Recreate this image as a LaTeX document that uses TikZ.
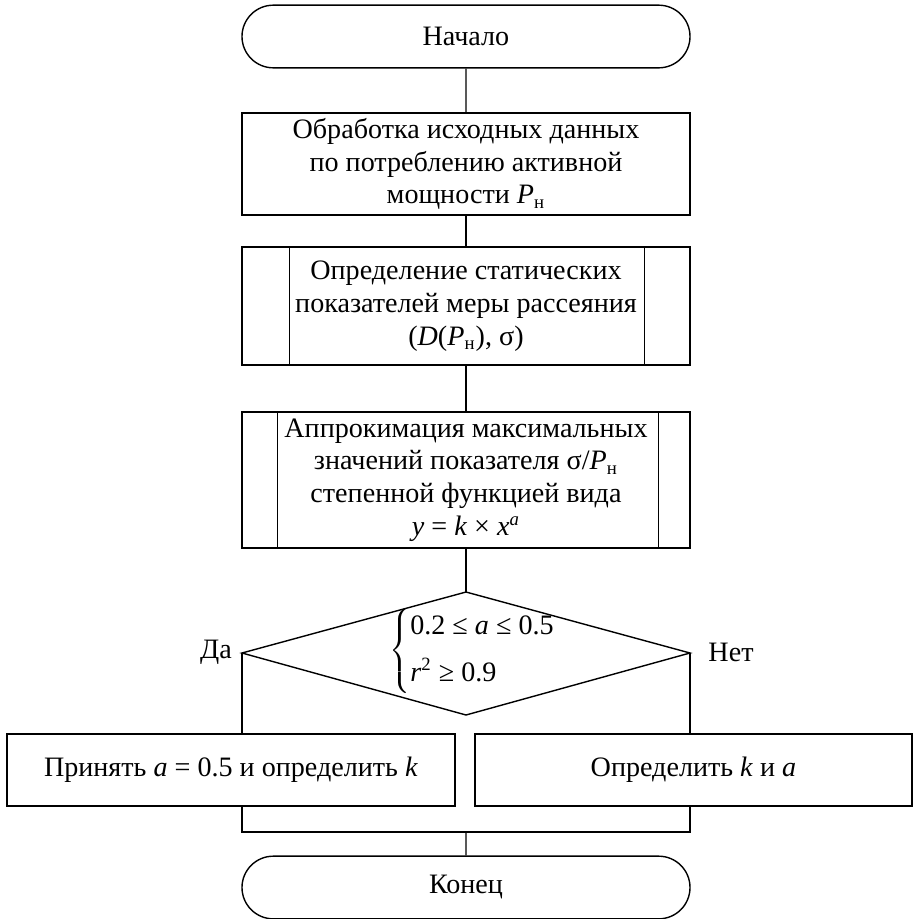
\documentclass[tikz,border=0pt]{standalone}
\usepackage{fontspec}
\setmainfont{Liberation Serif}
\usepackage{tikz}
\usetikzlibrary{positioning, shapes.misc}

\newcommand{\Pn}{\textit{P}\textsubscript{н}}

\tikzset{
  every node/.style={font=\fontsize{12}{14}\selectfont},
  termbox/.style={draw, rounded rectangle, minimum width=6.72cm, minimum height=0.94cm, inner sep=0pt},
  procbox/.style={draw, rectangle, minimum width=6.72cm, align=center, inner sep=0pt},
  subbox/.style={procbox},
  resbox/.style={draw, rectangle, minimum height=1.08cm, align=center, inner sep=0pt},
  branchlabel/.style={inner sep=0pt}
}

\begin{document}
\begin{tikzpicture}[x=0.015cm, y=-0.015cm, line width=0.6pt]
    \useasboundingbox (0,0) rectangle (913,919);

    % main column
    \node[termbox] (start) at (466,36.5) {Начало};
    \node[procbox, minimum height=1.53cm] (proc1) at (466,164) {%
      Обработка исходных данных\\
      по потреблению активной\\
      мощности \Pn};
    \node[subbox, minimum height=1.77cm] (sub1) at (466,306) {%
      Определение статических\\
      показателей меры рассеяния\\
      (\textit{D}(\Pn), σ)};
    \node[subbox, minimum height=2.04cm] (sub2) at (466,480) {%
      Аппрокимация максимальных\\
      значений показателя σ/\Pn\\
      степенной функцией вида\\
      \textit{y} = \textit{k} × \textit{x}\textsuperscript{\textit{a}}};

    % decision
    \coordinate (dtop) at (466,592);
    \coordinate (dleft) at (242,653);
    \coordinate (dbot) at (466,715);
    \coordinate (dright) at (690,653);
    \draw (dtop) -- (dleft) -- (dbot) -- (dright) -- cycle;
    \node[inner sep=0pt] (cond) at (473,651) {%
      $\left\{\begin{tabular}{@{}l@{}}0.2 ≤ \textit{a} ≤ 0.5\\[6pt]
      \textit{r}\textsuperscript{2} ≥ 0.9\end{tabular}\right.$};
    \node[branchlabel] (yes) at (216,652) {Да};
    \node[branchlabel] (no) at (731,652) {Нет};

    % branches
    \node[resbox, minimum width=6.72cm] (acceptk) at (231,770) {Принять \textit{a} = 0.5 и определить \textit{k}};
    \node[resbox, minimum width=6.555cm] (fitka) at (693.5,770) {Определить \textit{k} и \textit{a}};
    \node[termbox] (finish) at (466,887.5) {Конец};

    % inner side lines of the subprocess boxes
    \foreach \n/\l/\r in {sub1/0.72cm/0.69cm, sub2/0.54cm/0.48cm} {
      \draw ([xshift=\l]\n.north west) -- ([xshift=\l]\n.south west);
      \draw ([xshift=-\r]\n.north east) -- ([xshift=-\r]\n.south east);
    }

    % connectors
    \draw (start) -- (proc1);
    \draw (proc1) -- (sub1);
    \draw (sub1) -- (sub2);
    \draw (sub2) -- (dtop);
    \draw (dleft) -- (dleft |- acceptk.north);
    \draw (dright) -- (dright |- fitka.north);
    \coordinate (joinl) at (242,832);
    \coordinate (joinr) at (690,832);
    \coordinate (joinm) at (466,832);
    \draw (dleft |- acceptk.south) -- (joinl) -- (joinr) -- (dright |- fitka.south);
    \draw (joinm) -- (finish);
  \end{tikzpicture}
\end{document}
